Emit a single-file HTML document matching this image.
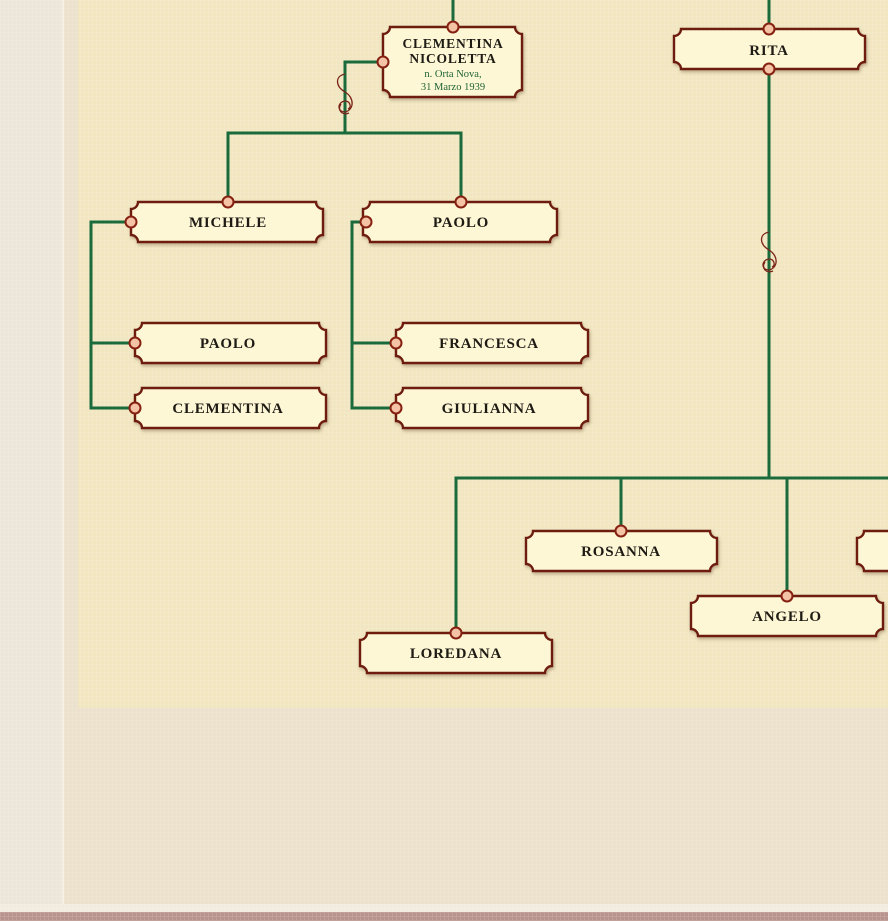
<!DOCTYPE html>
<html><head><meta charset="utf-8"><style>
html,body{margin:0;padding:0;width:888px;height:921px;overflow:hidden;background:#ece2cf;}
svg{display:block}
text{font-family:"Liberation Serif",serif;}
.n{fill:#fdf7d6;stroke:#6e1a0e;stroke-width:2.4;filter:url(#sh)}
.l{stroke:#1b6a3c;stroke-width:3;fill:none}
.c{fill:#f4c3a6;stroke:#862010;stroke-width:2}
.t{font-size:15px;font-weight:bold;letter-spacing:0.8px;fill:#1e1a14;text-anchor:middle}
.s{font-size:10.5px;fill:#1f6434;text-anchor:middle}
.sw{fill:none;stroke:#7a2418;stroke-width:1.3}
</style></head><body>
<svg width="888" height="921" viewBox="0 0 888 921" xmlns="http://www.w3.org/2000/svg">
<defs>
<filter id="sh" x="-10%" y="-20%" width="120%" height="150%"><feDropShadow dx="1" dy="2" stdDeviation="1.5" flood-color="#7a5a40" flood-opacity="0.45"/></filter>
<pattern id="tx" width="4" height="4" patternUnits="userSpaceOnUse"><path d="M0 0.5H4M0.5 0V4" stroke="#ffffff" stroke-opacity="0.12" stroke-width="1"/></pattern>
</defs>
<rect x="0" y="0" width="888" height="921" fill="#ebe1cc"/>
<rect x="0" y="0" width="62" height="905" fill="#ede5d8"/>
<rect x="62" y="0" width="2" height="905" fill="#f5eee2"/>
<rect x="78" y="0" width="810" height="708" fill="#f1e6c0"/>
<rect x="0" y="904" width="888" height="8" fill="#f1ebe0"/>
<rect x="0" y="912" width="888" height="9" fill="#b8948c"/>
<rect x="0" y="0" width="888" height="921" fill="url(#tx)"/>

<path class="l" d="M453 0V27M769 0V29"/>
<path class="l" d="M383 62H345V133M228 202V133H461V202"/>
<path class="l" d="M131 222H91V408H135M91 343H135"/>
<path class="l" d="M366 222H352V408H396M352 343H396"/>
<path class="l" d="M769 69V478M456 633V478H888M621 478V531M787 478V596"/>

<path class="sw" d="M345 74C335 76 335 86 345 92C355 98 354 110 345 112C337 112 337 102 345 101C350 101 352 107 348 109"/>
<path class="sw" d="M341 104C337 110 342 116 349 113"/>
<path class="sw" d="M769 232C759 234 759 244 769 250C779 256 778 268 769 270C761 270 761 260 769 259C774 259 776 265 772 267"/>
<path class="sw" d="M765 262C761 268 766 274 773 271"/>

<g>
<path class="n" d="M390 27H515A7 7 0 0 0 522 34V90A7 7 0 0 0 515 97H390A7 7 0 0 0 383 90V34A7 7 0 0 0 390 27Z"/>
<text class="t" x="453" y="48" style="font-size:13.5px">CLEMENTINA</text>
<text class="t" x="453" y="63" style="font-size:13.5px">NICOLETTA</text>
<text class="s" x="453" y="77">n. Orta Nova,</text>
<text class="s" x="453" y="90">31 Marzo 1939</text>
<circle class="c" cx="453" cy="27" r="5.5"/><circle class="c" cx="383" cy="62" r="5.5"/>
</g>
<g>
<path class="n" d="M681 29H858A7 7 0 0 0 865 36V62A7 7 0 0 0 858 69H681A7 7 0 0 0 674 62V36A7 7 0 0 0 681 29Z"/>
<text class="t" x="769" y="55">RITA</text>
<circle class="c" cx="769" cy="29" r="5.5"/><circle class="c" cx="769" cy="69" r="5.5"/>
</g>
<g>
<path class="n" d="M138 202H316A7 7 0 0 0 323 209V235A7 7 0 0 0 316 242H138A7 7 0 0 0 131 235V209A7 7 0 0 0 138 202Z"/>
<text class="t" x="228" y="227">MICHELE</text>
<circle class="c" cx="228" cy="202" r="5.5"/><circle class="c" cx="131" cy="222" r="5.5"/>
</g>
<g>
<path class="n" d="M370 202H550A7 7 0 0 0 557 209V235A7 7 0 0 0 550 242H370A7 7 0 0 0 363 235V209A7 7 0 0 0 370 202Z"/>
<text class="t" x="461" y="227">PAOLO</text>
<circle class="c" cx="461" cy="202" r="5.5"/><circle class="c" cx="366" cy="222" r="5.5"/>
</g>
<g>
<path class="n" d="M142 323H319A7 7 0 0 0 326 330V356A7 7 0 0 0 319 363H142A7 7 0 0 0 135 356V330A7 7 0 0 0 142 323Z"/>
<text class="t" x="228" y="348">PAOLO</text>
<circle class="c" cx="135" cy="343" r="5.5"/>
</g>
<g>
<path class="n" d="M142 388H319A7 7 0 0 0 326 395V421A7 7 0 0 0 319 428H142A7 7 0 0 0 135 421V395A7 7 0 0 0 142 388Z"/>
<text class="t" x="228" y="413">CLEMENTINA</text>
<circle class="c" cx="135" cy="408" r="5.5"/>
</g>
<g>
<path class="n" d="M403 323H581A7 7 0 0 0 588 330V356A7 7 0 0 0 581 363H403A7 7 0 0 0 396 356V330A7 7 0 0 0 403 323Z"/>
<text class="t" x="489" y="348">FRANCESCA</text>
<circle class="c" cx="396" cy="343" r="5.5"/>
</g>
<g>
<path class="n" d="M403 388H581A7 7 0 0 0 588 395V421A7 7 0 0 0 581 428H403A7 7 0 0 0 396 421V395A7 7 0 0 0 403 388Z"/>
<text class="t" x="489" y="413">GIULIANNA</text>
<circle class="c" cx="396" cy="408" r="5.5"/>
</g>
<g>
<path class="n" d="M533 531H710A7 7 0 0 0 717 538V564A7 7 0 0 0 710 571H533A7 7 0 0 0 526 564V538A7 7 0 0 0 533 531Z"/>
<text class="t" x="621" y="556">ROSANNA</text>
<circle class="c" cx="621" cy="531" r="5.5"/>
</g>
<g>
<path class="n" d="M864 531H900V571H864A7 7 0 0 0 857 564V538A7 7 0 0 0 864 531Z"/>
</g>
<g>
<path class="n" d="M698 596H876A7 7 0 0 0 883 603V629A7 7 0 0 0 876 636H698A7 7 0 0 0 691 629V603A7 7 0 0 0 698 596Z"/>
<text class="t" x="787" y="621">ANGELO</text>
<circle class="c" cx="787" cy="596" r="5.5"/>
</g>
<g>
<path class="n" d="M367 633H545A7 7 0 0 0 552 640V666A7 7 0 0 0 545 673H367A7 7 0 0 0 360 666V640A7 7 0 0 0 367 633Z"/>
<text class="t" x="456" y="658">LOREDANA</text>
<circle class="c" cx="456" cy="633" r="5.5"/>
</g>
</svg>
</body></html>
